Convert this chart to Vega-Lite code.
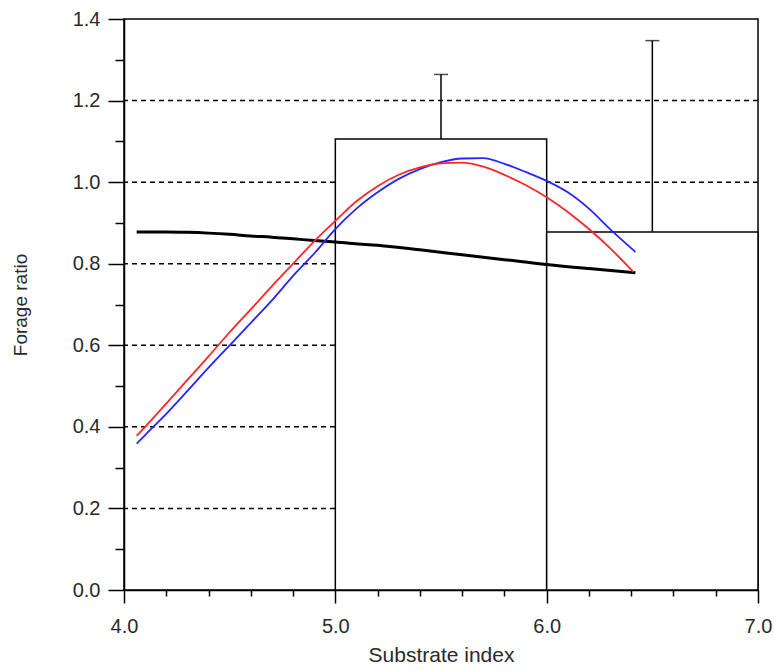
{
  "$schema": "https://vega.github.io/schema/vega-lite/v6.json",
  "autosize": {"type": "none"},
  "padding": {"left": 124, "top": 19, "right": 16, "bottom": 80},
  "width": 634,
  "height": 571,
  "background": "white",
  "config": {
    "view": {"stroke": "black", "strokeWidth": 1.5},
    "font": "Liberation Sans"
  },
  "datasets": {
    "grid": [{"g": 0.2}, {"g": 0.4}, {"g": 0.6}, {"g": 0.8}, {"g": 1.0}, {"g": 1.2}],
    "bars": [
      {"x0": 5, "x1": 6, "h": 1.106, "mid": 5.5, "err": 1.264},
      {"x0": 6, "x1": 7, "h": 0.878, "mid": 6.5, "err": 1.347}
    ],
    "black": [
      {"x": 4.06, "y": 0.878}, {"x": 4.2, "y": 0.878}, {"x": 4.3, "y": 0.877}, {"x": 4.4, "y": 0.875},
      {"x": 4.5, "y": 0.872}, {"x": 4.6, "y": 0.868}, {"x": 4.7, "y": 0.865}, {"x": 4.8, "y": 0.861},
      {"x": 4.9, "y": 0.857}, {"x": 5.0, "y": 0.853}, {"x": 5.2, "y": 0.845}, {"x": 5.4, "y": 0.834},
      {"x": 5.6, "y": 0.822}, {"x": 5.8, "y": 0.81}, {"x": 6.0, "y": 0.798}, {"x": 6.2, "y": 0.788},
      {"x": 6.42, "y": 0.778}
    ],
    "blue": [
      {"x": 4.06, "y": 0.359}, {"x": 4.1, "y": 0.38}, {"x": 4.2, "y": 0.432}, {"x": 4.3, "y": 0.488},
      {"x": 4.4, "y": 0.545}, {"x": 4.5, "y": 0.6}, {"x": 4.6, "y": 0.655}, {"x": 4.7, "y": 0.71},
      {"x": 4.8, "y": 0.77}, {"x": 4.9, "y": 0.825}, {"x": 5.0, "y": 0.885}, {"x": 5.1, "y": 0.935},
      {"x": 5.2, "y": 0.975}, {"x": 5.3, "y": 1.008}, {"x": 5.4, "y": 1.032}, {"x": 5.5, "y": 1.049},
      {"x": 5.6, "y": 1.058}, {"x": 5.7, "y": 1.059}, {"x": 5.8, "y": 1.045}, {"x": 5.9, "y": 1.025},
      {"x": 6.0, "y": 1.003}, {"x": 6.1, "y": 0.975}, {"x": 6.2, "y": 0.935}, {"x": 6.3, "y": 0.885},
      {"x": 6.42, "y": 0.829}
    ],
    "red": [
      {"x": 4.06, "y": 0.378}, {"x": 4.1, "y": 0.4}, {"x": 4.2, "y": 0.457}, {"x": 4.3, "y": 0.515},
      {"x": 4.4, "y": 0.573}, {"x": 4.5, "y": 0.632}, {"x": 4.6, "y": 0.688}, {"x": 4.7, "y": 0.745},
      {"x": 4.8, "y": 0.8}, {"x": 4.9, "y": 0.855}, {"x": 5.0, "y": 0.905}, {"x": 5.1, "y": 0.953},
      {"x": 5.2, "y": 0.99}, {"x": 5.3, "y": 1.018}, {"x": 5.4, "y": 1.036}, {"x": 5.5, "y": 1.046},
      {"x": 5.6, "y": 1.048}, {"x": 5.7, "y": 1.038}, {"x": 5.8, "y": 1.018}, {"x": 5.9, "y": 0.993},
      {"x": 6.0, "y": 0.963}, {"x": 6.1, "y": 0.927}, {"x": 6.2, "y": 0.885}, {"x": 6.3, "y": 0.838},
      {"x": 6.41, "y": 0.78}
    ]
  },
  "resolve": {"axis": {"x": "independent", "y": "independent"}},
  "layer": [
    {
      "data": {"name": "grid"},
      "mark": {"type": "rule", "color": "black", "strokeWidth": 1.5, "strokeDash": [5, 4]},
      "encoding": {
        "y": {
          "field": "g", "type": "quantitative",
          "scale": {"domain": [0, 1.4], "nice": false, "zero": false},
          "axis": {
            "orient": "left",
            "values": [0.1, 0.3, 0.5, 0.7, 0.9, 1.1, 1.3],
            "labels": false, "domain": false, "grid": false, "title": null,
            "tickSize": 9, "tickWidth": 1.5, "tickColor": "black"
          }
        }
      }
    },
    {
      "data": {"name": "bars"},
      "mark": {"type": "rect", "fill": "white", "stroke": "black", "strokeWidth": 1.5},
      "encoding": {
        "x": {
          "field": "x0", "type": "quantitative",
          "scale": {"domain": [4, 7], "nice": false, "zero": false},
          "axis": {
            "orient": "bottom",
            "values": [4, 5, 6, 7], "format": ".1f", "grid": false,
            "tickSize": 13, "tickWidth": 1.5, "tickColor": "black",
            "domainColor": "black", "domainWidth": 1.5,
            "labelFontSize": 20, "labelColor": "#2a2a2a", "labelPadding": 13, "labelFlush": false,
            "title": "Substrate index", "titleFontSize": 21, "titleFontWeight": "normal",
            "titleColor": "#2a2a2a", "titlePadding": 8
          }
        },
        "x2": {"field": "x1"},
        "y": {
          "field": "h", "type": "quantitative",
          "axis": {
            "orient": "left",
            "values": [0, 0.2, 0.4, 0.6, 0.8, 1.0, 1.2, 1.4], "format": ".1f", "grid": false,
            "tickSize": 16, "tickWidth": 1.5, "tickColor": "black",
            "domainColor": "black", "domainWidth": 1.5,
            "labelFontSize": 20, "labelColor": "#2a2a2a", "labelPadding": 8,
            "title": "Forage ratio", "titleFontSize": 19, "titleFontWeight": "normal",
            "titleColor": "#2a2a2a", "titlePadding": 42
          }
        },
        "y2": {"datum": 0}
      }
    },
    {
      "data": {"name": "bars"},
      "mark": {"type": "rule", "color": "black", "strokeWidth": 1.5},
      "encoding": {
        "x": {
          "field": "mid", "type": "quantitative",
          "axis": {
            "orient": "bottom",
            "values": [4.2, 4.4, 4.6, 4.8, 5.2, 5.4, 5.6, 5.8, 6.2, 6.4, 6.6, 6.8],
            "labels": false, "domain": false, "grid": false, "title": null,
            "tickSize": 6, "tickWidth": 1.5, "tickColor": "black"
          }
        },
        "y": {"field": "h", "type": "quantitative", "axis": null},
        "y2": {"field": "err"}
      }
    },
    {
      "data": {"name": "bars"},
      "mark": {"type": "tick", "color": "black", "orient": "horizontal", "size": 14, "thickness": 1.5},
      "encoding": {
        "x": {"field": "mid", "type": "quantitative", "axis": null},
        "y": {"field": "err", "type": "quantitative", "axis": null}
      }
    },
    {
      "data": {"name": "black"},
      "mark": {"type": "line", "color": "black", "strokeWidth": 3, "interpolate": "monotone"},
      "encoding": {
        "x": {"field": "x", "type": "quantitative", "axis": null},
        "y": {"field": "y", "type": "quantitative", "axis": null}
      }
    },
    {
      "data": {"name": "blue"},
      "mark": {"type": "line", "color": "#2626ff", "strokeWidth": 1.8, "interpolate": "monotone"},
      "encoding": {
        "x": {"field": "x", "type": "quantitative", "axis": null},
        "y": {"field": "y", "type": "quantitative", "axis": null}
      }
    },
    {
      "data": {"name": "red"},
      "mark": {"type": "line", "color": "#ff2626", "strokeWidth": 1.8, "interpolate": "monotone"},
      "encoding": {
        "x": {"field": "x", "type": "quantitative", "axis": null},
        "y": {"field": "y", "type": "quantitative", "axis": null}
      }
    }
  ]
}
